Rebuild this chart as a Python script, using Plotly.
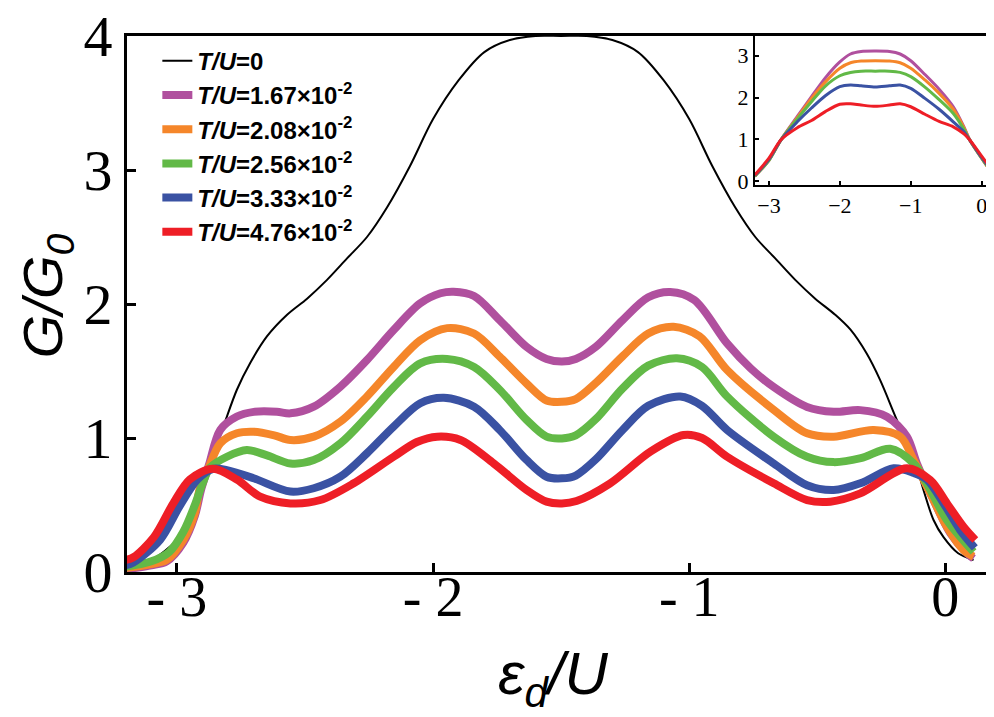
import plotly.graph_objects as go

# ---------------- main panel data ----------------
x_t0 = [-3.2, -3.1, -3.0, -2.954, -2.914, -2.862, -2.818, -2.766, -2.714, -2.648, -2.57, -2.492,
        -2.414, -2.336, -2.258, -2.18, -2.09, -2.0, -1.9, -1.8, -1.7, -1.6, -1.5, -1.4, -1.3,
        -1.2, -1.1, -1.0, -0.91, -0.82, -0.742, -0.664, -0.586, -0.508, -0.43, -0.371, -0.307,
        -0.254, -0.189, -0.124, -0.085, -0.046, -0.007, 0.05, 0.11]
y_t0 = [0.04, 0.09, 0.24, 0.39, 0.58, 0.86, 1.09, 1.36, 1.56, 1.76, 1.92, 2.04,
        2.18, 2.34, 2.5, 2.72, 3.03, 3.38, 3.67, 3.88, 3.97, 4.0, 4.0, 4.0, 3.97,
        3.88, 3.67, 3.38, 3.03, 2.72, 2.5, 2.34, 2.18, 2.04, 1.92, 1.81, 1.63,
        1.43, 1.134, 0.86, 0.61, 0.388, 0.26, 0.14, 0.09]

x_p = [-3.2, -3.1, -3.04, -2.975, -2.93, -2.905, -2.875, -2.831, -2.766, -2.70, -2.61, -2.557,
       -2.466, -2.362, -2.258, -2.154, -2.05, -1.971, -1.92, -1.84, -1.74, -1.635, -1.557,
       -1.497, -1.443, -1.365, -1.26, -1.16, -1.074, -0.98, -0.852, -0.76, -0.67, -0.54,
       -0.436, -0.332, -0.228, -0.15, -0.111, -0.046, 0.019, 0.084, 0.11]
y_p = [0.02, 0.05, 0.08, 0.22, 0.42, 0.62, 0.80, 1.06, 1.16, 1.195, 1.196, 1.184,
       1.234, 1.383, 1.582, 1.806, 2.005, 2.08, 2.092, 2.06, 1.88, 1.68, 1.59,
       1.57, 1.59, 1.68, 1.88, 2.05, 2.09, 2.03, 1.706, 1.52, 1.38, 1.232,
       1.196, 1.208, 1.159, 1.01, 0.81, 0.537, 0.29, 0.14, 0.10]

x_o = [-3.2, -3.1, -3.04, -2.975, -2.93, -2.91, -2.88, -2.831, -2.766, -2.70, -2.62, -2.557,
       -2.466, -2.362, -2.258, -2.154, -2.05, -1.945, -1.84, -1.74, -1.635, -1.557, -1.497,
       -1.443, -1.365, -1.26, -1.16, -1.061, -0.96, -0.852, -0.67, -0.54, -0.436, -0.28,
       -0.176, -0.124, -0.059, 0.006, 0.071, 0.11]
y_o = [0.03, 0.06, 0.09, 0.24, 0.44, 0.63, 0.76, 0.96, 1.035, 1.047, 1.02, 0.985,
       1.01, 1.122, 1.31, 1.53, 1.73, 1.82, 1.78, 1.607, 1.407, 1.28, 1.27,
       1.29, 1.41, 1.61, 1.78, 1.83, 1.76, 1.507, 1.21, 1.035, 1.01, 1.06,
       1.01, 0.836, 0.588, 0.338, 0.164, 0.115]

x_g = [-3.2, -3.1, -3.03, -2.975, -2.93, -2.9, -2.87, -2.805, -2.727, -2.648, -2.557, -2.466,
       -2.362, -2.258, -2.154, -2.05, -1.945, -1.84, -1.74, -1.635, -1.557, -1.497, -1.443,
       -1.365, -1.26, -1.16, -1.048, -0.95, -0.852, -0.67, -0.54, -0.436, -0.33, -0.215,
       -0.124, -0.072, 0.006, 0.11]
y_g = [0.04, 0.08, 0.15, 0.30, 0.50, 0.66, 0.78, 0.86, 0.91, 0.87, 0.81, 0.835,
       0.96, 1.16, 1.38, 1.557, 1.59, 1.53, 1.36, 1.135, 1.01, 0.997, 1.02,
       1.14, 1.37, 1.54, 1.595, 1.53, 1.31, 1.01, 0.86, 0.82, 0.85, 0.92,
       0.81, 0.66, 0.388, 0.15]

x_b = [-3.2, -3.17, -3.066, -2.99, -2.92, -2.86, -2.805, -2.701, -2.557, -2.466, -2.362, -2.258,
       -2.154, -2.05, -1.958, -1.84, -1.74, -1.635, -1.557, -1.497, -1.443, -1.365, -1.26,
       -1.16, -1.035, -0.95, -0.852, -0.67, -0.54, -0.436, -0.332, -0.202, -0.124, -0.072,
       -0.007, 0.058, 0.115]
y_b = [0.05, 0.07, 0.24, 0.49, 0.69, 0.77, 0.76, 0.70, 0.60, 0.625, 0.711, 0.886,
       1.085, 1.259, 1.30, 1.234, 1.06, 0.836, 0.711, 0.699, 0.72, 0.84, 1.06,
       1.24, 1.31, 1.24, 1.06, 0.81, 0.648, 0.612, 0.662, 0.774, 0.74, 0.69,
       0.513, 0.313, 0.18]

x_r = [-3.2, -3.17, -3.09, -3.015, -2.95, -2.86, -2.766, -2.675, -2.557, -2.44, -2.31, -2.154,
       -2.063, -1.984, -1.893, -1.763, -1.635, -1.557, -1.497, -1.44, -1.31, -1.15, -1.022,
       -0.95, -0.852, -0.67, -0.54, -0.449, -0.332, -0.15, -0.059, 0.006, 0.071, 0.117]
y_r = [0.09, 0.11, 0.26, 0.51, 0.69, 0.77, 0.69, 0.562, 0.512, 0.537, 0.662, 0.86,
       0.97, 1.01, 0.985, 0.81, 0.612, 0.525, 0.512, 0.53, 0.66, 0.90, 1.022,
       1.0, 0.86, 0.662, 0.537, 0.525, 0.587, 0.774, 0.686, 0.513, 0.338, 0.239]

# ---------------- inset data ----------------
x_in = [-3.2, -3.0, -2.83, -2.6, -2.4, -2.2, -2.0, -1.85, -1.7, -1.5, -1.3, -1.15, -1.0,
        -0.8, -0.6, -0.4, -0.25, -0.17, 0.0, 0.12]
in_p = [0.12, 0.50, 0.99, 1.55, 2.02, 2.48, 2.85, 3.04, 3.10, 3.11, 3.10, 3.04, 2.88,
        2.55, 2.20, 1.78, 1.30, 0.99, 0.55, 0.25]
in_o = [0.12, 0.50, 0.99, 1.52, 1.98, 2.38, 2.70, 2.83, 2.87, 2.88, 2.87, 2.83, 2.70,
        2.42, 2.10, 1.72, 1.28, 0.99, 0.55, 0.25]
in_g = [0.12, 0.50, 0.99, 1.49, 1.90, 2.28, 2.52, 2.60, 2.63, 2.63, 2.63, 2.60, 2.50,
        2.25, 1.95, 1.62, 1.24, 0.99, 0.55, 0.27]
in_b = [0.14, 0.52, 0.99, 1.42, 1.75, 2.05, 2.26, 2.30, 2.28, 2.25, 2.28, 2.30, 2.22,
        1.98, 1.72, 1.42, 1.18, 0.99, 0.57, 0.30]
in_r = [0.15, 0.55, 0.99, 1.28, 1.45, 1.67, 1.84, 1.85, 1.82, 1.79, 1.82, 1.85, 1.78,
        1.60, 1.43, 1.30, 1.13, 0.99, 0.60, 0.33]

labels = ["<b><i>T/U</i>=0</b>",
          "<b><i>T/U</i>=1.67×10<sup>-2</sup></b>",
          "<b><i>T/U</i>=2.08×10<sup>-2</sup></b>",
          "<b><i>T/U</i>=2.56×10<sup>-2</sup></b>",
          "<b><i>T/U</i>=3.33×10<sup>-2</sup></b>",
          "<b><i>T/U</i>=4.76×10<sup>-2</sup></b>"]
colors = ["#000000", "#B0509E", "#F5862A", "#62B947", "#3A52A3", "#EE1E26"]

main_x = [x_t0, x_p, x_o, x_g, x_b, x_r]
main_y = [y_t0, y_p, y_o, y_g, y_b, y_r]
inset_y = [in_p, in_o, in_g, in_b, in_r]

main_xticks = [-3, -2, -1, 0]
main_xticktext = ["- 3", "- 2", "- 1", "0"]
main_yticks = [0, 1, 2, 3, 4]
inset_xticks = [-3, -2, -1, 0]
inset_xticktext = ["−3", "−2", "−1", "0"]
inset_yticks = [0, 1, 2, 3]
x_title = "<i>ε<sub>d</sub>/U</i>"
y_title = "<i>G/G<sub>0</sub></i>"

fig = go.Figure()
for i in range(6):
    fig.add_trace(go.Scatter(
        x=main_x[i], y=main_y[i], mode="lines", name=labels[i],
        line=dict(color=colors[i], width=2 if i == 0 else 8, shape="spline", smoothing=0.9),
        xaxis="x", yaxis="y"))
for i in range(5):
    fig.add_trace(go.Scatter(
        x=x_in, y=inset_y[i], mode="lines", showlegend=False,
        line=dict(color=colors[i + 1], width=3, shape="spline", smoothing=0.8),
        xaxis="x2", yaxis="y2"))

serif = "Liberation Serif, Times New Roman, serif"
sans = "Liberation Sans, Arial, sans-serif"

fig.update_layout(
    width=986, height=709,
    margin=dict(l=119, r=0, t=28, b=145),
    paper_bgcolor="white", plot_bgcolor="white",
    showlegend=True,
    legend=dict(x=0.035, y=0.995, xanchor="left", yanchor="top",
                bgcolor="rgba(0,0,0,0)", font=dict(family=sans, size=24, color="black"),
                tracegroupgap=0),
    xaxis=dict(domain=[0, 1], range=[-3.195, 0.19], showgrid=False, zeroline=False,
               showline=True, linewidth=3, linecolor="black", mirror=True,
               ticks="inside", ticklen=9, tickwidth=2.5, tickcolor="black",
               tickvals=main_xticks, ticktext=main_xticktext, ticklabelstandoff=-26,
               tickfont=dict(family=serif, size=56, color="black"), automargin=False),
    yaxis=dict(domain=[0, 1], range=[0, 4], showgrid=False, zeroline=False,
               showline=True, linewidth=3, linecolor="black",
               ticks="inside", ticklen=9, tickwidth=2.5, tickcolor="black",
               tickvals=main_yticks, ticklabeloverflow="allow",
               tickfont=dict(family=serif, size=58, color="black"), automargin=False),
    xaxis2=dict(domain=[0.7243, 1.0], anchor="y2", range=[-3.197, 0.174], showgrid=False,
                zeroline=False, showline=True, linewidth=2, linecolor="black",
                ticks="inside", ticklen=4, tickwidth=1.5, tickcolor="black",
                tickvals=inset_xticks, ticktext=inset_xticktext, ticklabeloverflow="allow",
                tickfont=dict(family=serif, size=22, color="black"), automargin=False),
    yaxis2=dict(domain=[0.722, 1.0], anchor="x2", range=[-0.09, 3.47], showgrid=False,
                zeroline=False, showline=True, linewidth=2, linecolor="black",
                ticks="inside", ticklen=4, tickwidth=1.5, tickcolor="black",
                tickvals=inset_yticks,
                tickfont=dict(family=serif, size=22, color="black"), automargin=False),
    annotations=[
        dict(text=x_title, xref="paper", yref="paper", x=0.491, y=-0.198, xanchor="center",
             yanchor="middle", showarrow=False, font=dict(family=sans, size=60, color="black")),
        dict(text=y_title, xref="paper", yref="paper", x=-0.092, y=0.515, xanchor="center",
             yanchor="middle", showarrow=False, textangle=-90,
             font=dict(family=sans, size=56, color="black")),
    ],
)

fig.write_html("out.html")
